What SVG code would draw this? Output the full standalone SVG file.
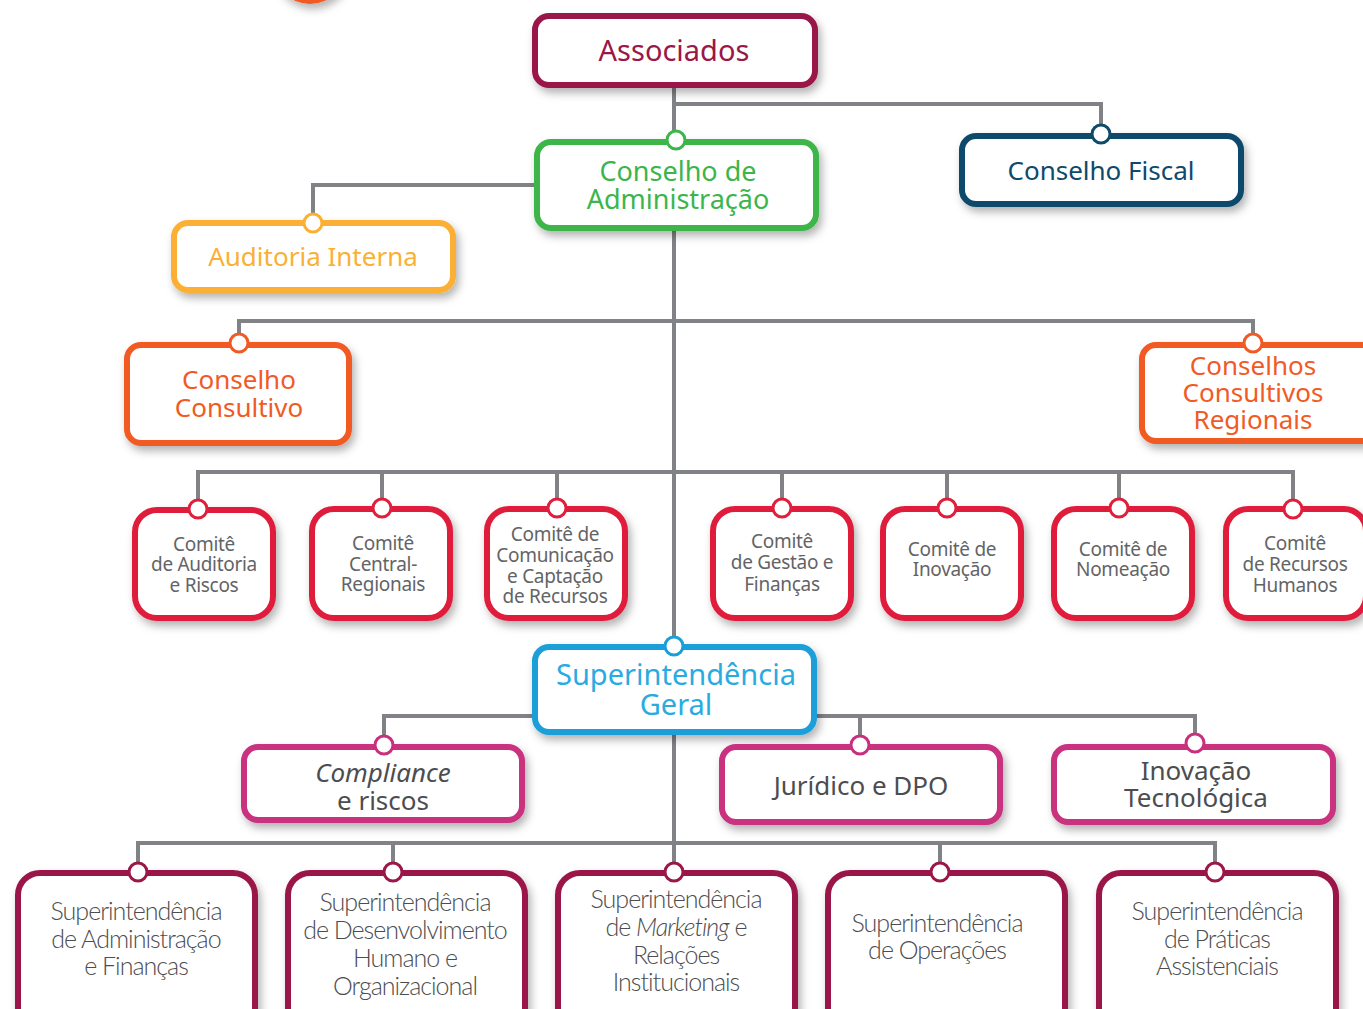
<svg xmlns="http://www.w3.org/2000/svg" width="1363" height="1009" viewBox="0 0 1363 1009">
<defs>
<filter id="sh" x="-20%" y="-20%" width="140%" height="150%">
<feDropShadow dx="3" dy="5" stdDeviation="4" flood-color="#000" flood-opacity="0.3"/>
</filter>
<style>
.box{fill:#fff;stroke-width:6;filter:url(#sh)}
.dot{fill:#fff;stroke-width:3}
.con{fill:none;stroke:#808285;stroke-width:4}
text{font-family:"Noto Sans","Open Sans",sans-serif;text-anchor:middle}
.t1{font-size:27px}
.cm{font-size:19px;fill:#636466;letter-spacing:-0.3px}
.sp{font-family:"Lato","Open Sans",sans-serif;font-weight:300;font-size:25px;fill:#4d4d4f;letter-spacing:-1px}
.mar{stroke:#9a1748}.grn{stroke:#3cb54a}.nav{stroke:#0d4a6b}.yel{stroke:#fbb034}.org{stroke:#f15a24}.red{stroke:#e01f3d}.cya{stroke:#1a9fd9}.mag{stroke:#c8307e}
</style>
</defs>
<rect width="1363" height="1009" fill="#fff"/>
<circle cx="310" cy="-34" r="38" fill="#f15a24" filter="url(#sh)"/>

<g id="connectors">
<path class="con" d="M674 85V871"/>
<path class="con" d="M674 104H1101V134"/>
<path class="con" d="M537 185H313V222"/>
<path class="con" d="M239 343V321H1253V343"/>
<path class="con" d="M198 508V472H1293V508M382 472V508M557 472V508M782 472V508M947 472V508M1119 472V508"/>
<path class="con" d="M384 745V716H1195V743M860 716V745"/>
<path class="con" d="M138 872V843H1215V872M393 843V872M940 843V872"/>
</g>

<g id="associados"><rect class="box mar" x="535" y="16" width="280" height="69" rx="14"/><text x="674" y="61" font-size="29" fill="#9a1748">Associados</text></g>

<g id="conselho-adm"><rect class="box grn" x="537" y="142" width="279" height="86" rx="14"/><circle class="dot grn" cx="676" cy="140" r="9"/>
<text class="t1" fill="#3cb54a"><tspan x="678" y="181">Conselho de</tspan><tspan x="678" y="209">Administração</tspan></text></g>

<g id="conselho-fiscal"><rect class="box nav" x="962" y="136" width="279" height="68" rx="14"/><circle class="dot nav" cx="1101" cy="134" r="9"/><text x="1101" y="180" font-size="26" fill="#0d4a6b">Conselho Fiscal</text></g>

<g id="auditoria"><rect class="box yel" x="174" y="223" width="279" height="67" rx="14"/><circle class="dot yel" cx="313" cy="223" r="9"/><text x="313" y="266" font-size="26" fill="#fbb034">Auditoria Interna</text></g>

<g id="conselho-consultivo"><rect class="box org" x="127" y="345" width="222" height="98" rx="14"/><circle class="dot org" cx="239" cy="343" r="9"/>
<text font-size="26" fill="#f15a24"><tspan x="239" y="389">Conselho</tspan><tspan x="239" y="417">Consultivo</tspan></text></g>

<g id="conselhos-regionais"><rect class="box org" x="1142" y="345" width="240" height="96" rx="14"/><circle class="dot org" cx="1253" cy="343" r="9"/>
<text font-size="26" fill="#f15a24"><tspan x="1253" y="375">Conselhos</tspan><tspan x="1253" y="402">Consultivos</tspan><tspan x="1253" y="429">Regionais</tspan></text></g>

<g id="comite-auditoria"><rect class="box red" x="135" y="510" width="138" height="108" rx="22"/><circle class="dot red" cx="198" cy="509" r="9"/>
<text class="cm"><tspan x="204" y="551">Comitê</tspan><tspan x="204" y="571">de Auditoria</tspan><tspan x="204" y="592">e Riscos</tspan></text></g>

<g id="comite-central"><rect class="box red" x="312" y="509" width="138" height="109" rx="22"/><circle class="dot red" cx="382" cy="508" r="9"/>
<text class="cm"><tspan x="383" y="550">Comitê</tspan><tspan x="383" y="571">Central-</tspan><tspan x="383" y="591">Regionais</tspan></text></g>

<g id="comite-comunicacao"><rect class="box red" x="487" y="509" width="138" height="109" rx="22"/><circle class="dot red" cx="557" cy="508" r="9"/>
<text class="cm"><tspan x="555" y="541">Comitê de</tspan><tspan x="555" y="562">Comunicação</tspan><tspan x="555" y="583">e Captação</tspan><tspan x="555" y="603">de Recursos</tspan></text></g>

<g id="comite-gestao"><rect class="box red" x="713" y="509" width="138" height="109" rx="22"/><circle class="dot red" cx="782" cy="508" r="9"/>
<text class="cm"><tspan x="782" y="548">Comitê</tspan><tspan x="782" y="569">de Gestão e</tspan><tspan x="782" y="591">Finanças</tspan></text></g>

<g id="comite-inovacao"><rect class="box red" x="883" y="509" width="138" height="109" rx="22"/><circle class="dot red" cx="947" cy="508" r="9"/>
<text class="cm"><tspan x="952" y="556">Comitê de</tspan><tspan x="952" y="576">Inovação</tspan></text></g>

<g id="comite-nomeacao"><rect class="box red" x="1054" y="509" width="138" height="109" rx="22"/><circle class="dot red" cx="1119" cy="508" r="9"/>
<text class="cm"><tspan x="1123" y="556">Comitê de</tspan><tspan x="1123" y="576">Nomeação</tspan></text></g>

<g id="comite-rh"><rect class="box red" x="1226" y="509" width="140" height="109" rx="22"/><circle class="dot red" cx="1293" cy="509" r="9"/>
<text class="cm"><tspan x="1295" y="550">Comitê</tspan><tspan x="1295" y="571">de Recursos</tspan><tspan x="1295" y="592">Humanos</tspan></text></g>

<g id="superintendencia-geral"><rect class="box cya" x="535" y="647" width="279" height="85" rx="14"/><circle class="dot cya" cx="674" cy="646" r="9"/>
<text font-size="29" fill="#29abe2"><tspan x="676" y="685">Superintendência</tspan><tspan x="676" y="715">Geral</tspan></text></g>

<g id="compliance"><rect class="box mag" x="244" y="747" width="278" height="73" rx="14"/><circle class="dot mag" cx="384" cy="745" r="9"/>
<text font-size="26" fill="#4d4d4f"><tspan x="383" y="782" font-style="italic">Compliance</tspan><tspan x="383" y="810">e riscos</tspan></text></g>

<g id="juridico"><rect class="box mag" x="722" y="747" width="278" height="75" rx="14"/><circle class="dot mag" cx="860" cy="745" r="9"/>
<text x="861" y="795" font-size="26" fill="#4d4d4f">Jurídico e DPO</text></g>

<g id="inovacao-tecnologica"><rect class="box mag" x="1054" y="747" width="279" height="75" rx="14"/><circle class="dot mag" cx="1195" cy="743" r="9"/>
<text font-size="26" fill="#4d4d4f"><tspan x="1196" y="780">Inovação</tspan><tspan x="1196" y="807">Tecnológica</tspan></text></g>

<g id="sup-adm"><rect class="box mar" x="18" y="873" width="237" height="160" rx="22"/><circle class="dot mar" cx="138" cy="872" r="9"/>
<text class="sp"><tspan x="136" y="920">Superintendência</tspan><tspan x="136" y="948">de Administração</tspan><tspan x="136" y="975">e Finanças</tspan></text></g>

<g id="sup-dho"><rect class="box mar" x="288" y="873" width="237" height="160" rx="22"/><circle class="dot mar" cx="393" cy="872" r="9"/>
<text class="sp"><tspan x="405" y="911">Superintendência</tspan><tspan x="405" y="939">de Desenvolvimento</tspan><tspan x="405" y="967">Humano e</tspan><tspan x="405" y="995">Organizacional</tspan></text></g>

<g id="sup-marketing"><rect class="box mar" x="558" y="873" width="237" height="160" rx="22"/><circle class="dot mar" cx="674" cy="872" r="9"/>
<text class="sp"><tspan x="676" y="908">Superintendência</tspan><tspan x="676" y="936">de <tspan font-style="italic">Marketing</tspan> e</tspan><tspan x="676" y="964">Relações</tspan><tspan x="676" y="991">Institucionais</tspan></text></g>

<g id="sup-operacoes"><rect class="box mar" x="828" y="873" width="237" height="160" rx="22"/><circle class="dot mar" cx="940" cy="872" r="9"/>
<text class="sp"><tspan x="937" y="932">Superintendência</tspan><tspan x="937" y="959">de Operações</tspan></text></g>

<g id="sup-praticas"><rect class="box mar" x="1099" y="873" width="237" height="160" rx="22"/><circle class="dot mar" cx="1215" cy="872" r="9"/>
<text class="sp"><tspan x="1217" y="920">Superintendência</tspan><tspan x="1217" y="948">de Práticas</tspan><tspan x="1217" y="975">Assistenciais</tspan></text></g>
</svg>
